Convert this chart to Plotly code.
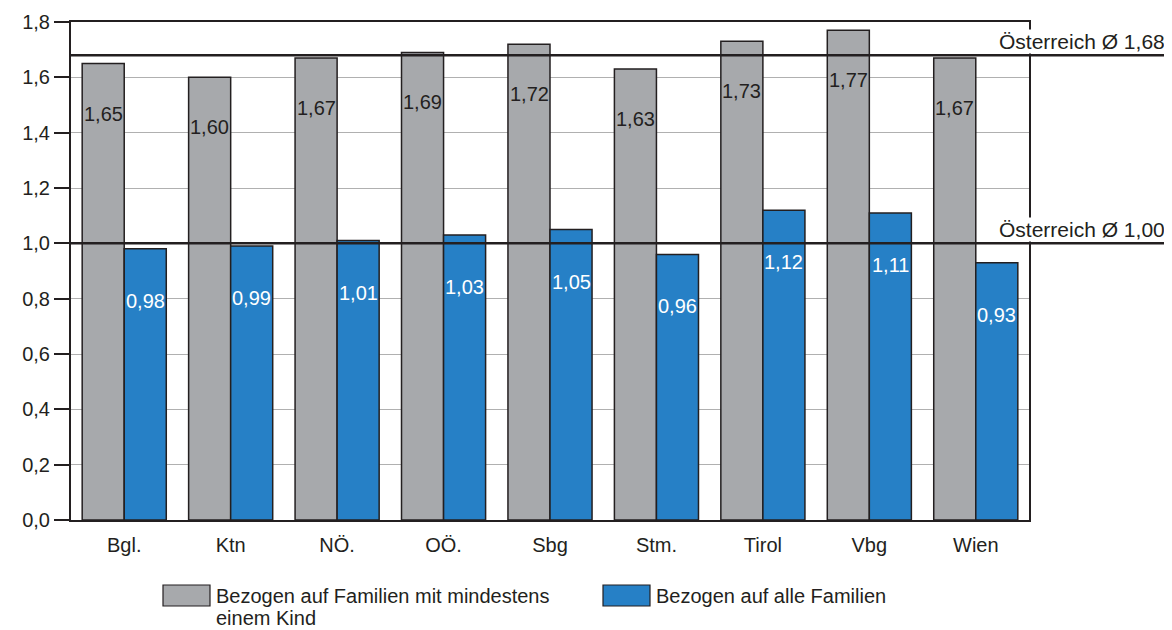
import plotly.graph_objects as go

categories = ["Bgl.", "Ktn", "NÖ.", "OÖ.", "Sbg", "Stm.", "Tirol", "Vbg", "Wien"]
mit_kind = [1.65, 1.60, 1.67, 1.69, 1.72, 1.63, 1.73, 1.77, 1.67]
alle = [0.98, 0.99, 1.01, 1.03, 1.05, 0.96, 1.12, 1.11, 0.93]
ref_values = [1.68, 1.00]
ref_labels = ["Österreich Ø 1,68", "Österreich Ø 1,00"]
series_names = ["Bezogen auf Familien mit mindestens", "Bezogen auf alle Familien"]
series_name_cont = ["einem Kind", ""]
tick_vals = [0, 0.2, 0.4, 0.6, 0.8, 1.0, 1.2, 1.4, 1.6, 1.8]
tick_text = ["0,0", "0,2", "0,4", "0,6", "0,8", "1,0", "1,2", "1,4", "1,6", "1,8"]

GRAY = "#a7a9ac"
BLUE = "#2680c6"
DARK = "#231f20"
FONT = "Liberation Sans, Arial, sans-serif"
FS = 20
FS2 = 21
FSL = 20

def fmt(v):
    return f"{v:.2f}".replace(".", ",")

fig = go.Figure()
fig.add_trace(go.Bar(x=categories, y=mit_kind, name=series_names[0],
                     marker=dict(color=GRAY, line=dict(color=DARK, width=1.5))))
fig.add_trace(go.Bar(x=categories, y=alle, name=series_names[1],
                     marker=dict(color=BLUE, line=dict(color=DARK, width=1.5))))

annotations = []
for c, v in zip(categories, mit_kind):
    annotations.append(dict(x=c, y=v, xref="x", yref="y", text=fmt(v), showarrow=False,
                            xshift=-21, yshift=-50, font=dict(family=FONT, size=FS, color=DARK)))
for c, v in zip(categories, alle):
    annotations.append(dict(x=c, y=v, xref="x", yref="y", text=fmt(v), showarrow=False,
                            xshift=21, yshift=-52, font=dict(family=FONT, size=FS, color="white")))

shapes = []
for v, lab in zip(ref_values, ref_labels):
    shapes.append(dict(type="line", xref="paper", yref="y", x0=0, x1=1.16, y0=v, y1=v,
                       line=dict(color=DARK, width=2.5), layer="above"))
    annotations.append(dict(x=1.143, y=v, xref="paper", yref="y", text=lab, showarrow=False,
                            xanchor="right", yanchor="bottom", yshift=1, bgcolor="white",
                            borderpad=0,
                            font=dict(family=FONT, size=FS2, color=DARK)))

# custom legend (positions in window pixels converted to paper coords)
def px_x(px):
    return (px - 71) / 958

def px_y(py):
    return (520 - py) / 498

legend_items = [(GRAY, series_names[0], series_name_cont[0], 163),
                (BLUE, series_names[1], series_name_cont[1], 603)]
for color, name, cont, px in legend_items:
    shapes.append(dict(type="rect", xref="paper", yref="paper", x0=px_x(px), x1=px_x(px + 47),
                       y0=px_y(585), y1=px_y(606),
                       fillcolor=color, line=dict(color=DARK, width=1.2)))
    annotations.append(dict(x=px_x(px + 52), y=px_y(596), xref="paper", yref="paper",
                            text=name, showarrow=False, xanchor="left", yanchor="middle",
                            borderpad=0,
                            font=dict(family=FONT, size=FSL, color=DARK)))
    if cont:
        annotations.append(dict(x=px_x(px + 52), y=px_y(618), xref="paper", yref="paper",
                                text=cont, showarrow=False, xanchor="left", yanchor="middle",
                                borderpad=0,
                                font=dict(family=FONT, size=FSL, color=DARK)))

fig.update_layout(
    width=1164, height=622,
    margin=dict(l=63, r=143, t=14, b=110),
    plot_bgcolor="white", paper_bgcolor="white",
    barmode="group", bargap=0.21, bargroupgap=0,
    showlegend=False,
    font=dict(family=FONT, size=FS, color=DARK),
    xaxis=dict(showline=True, linecolor=DARK, linewidth=2, mirror=True, ticks="",
               automargin=False, ticklabelstandoff=6,
               tickfont=dict(family=FONT, size=FS, color=DARK), showgrid=False),
    yaxis=dict(range=[0, 1.8], tickvals=tick_vals, ticktext=tick_text, showline=True,
               automargin=False,
               linecolor=DARK, linewidth=2, mirror=True, ticks="outside", ticklen=15,
               tickcolor=DARK, tickwidth=1.5, showgrid=True, gridcolor="#b0b0b0", gridwidth=1,
               zeroline=False, tickfont=dict(family=FONT, size=FS, color=DARK)),
    shapes=shapes, annotations=annotations,
)
fig.write_html("out.html")
